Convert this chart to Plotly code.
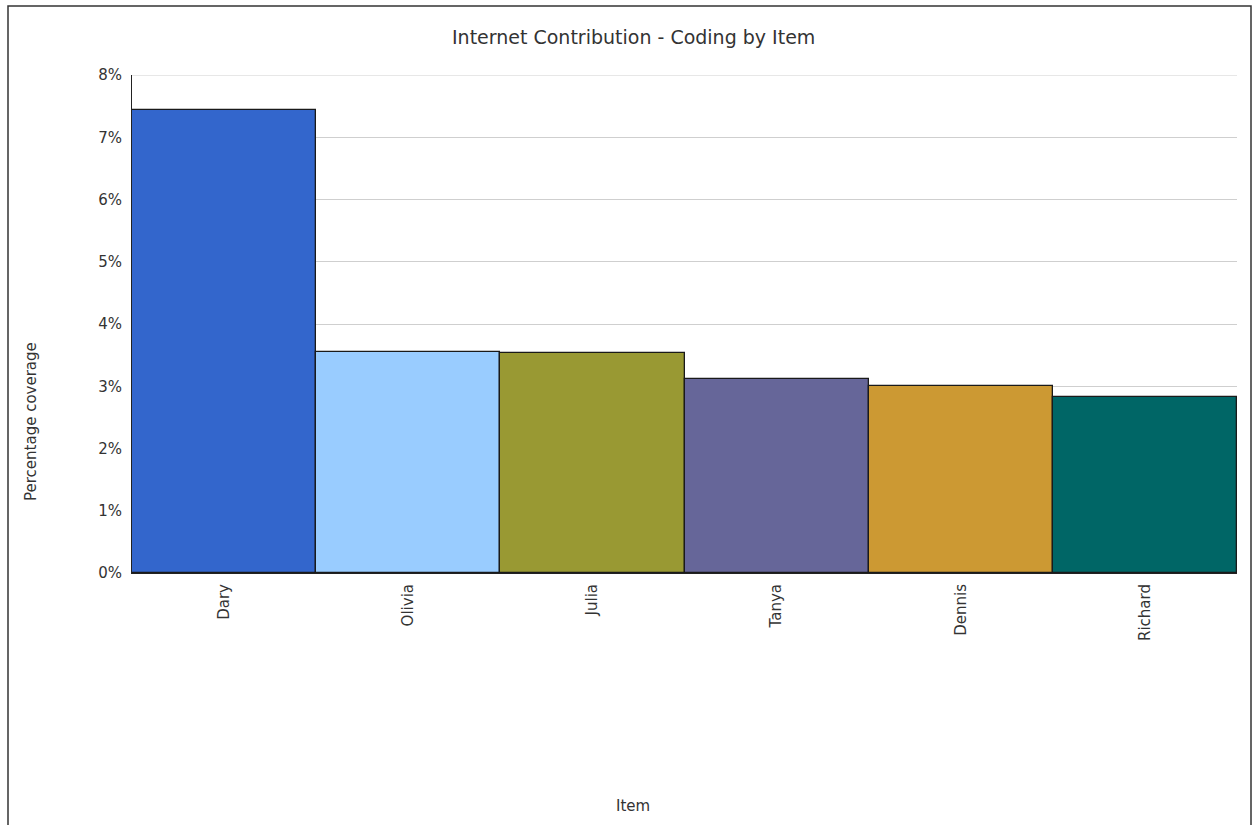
import plotly.graph_objects as go

categories = ["Dary", "Olivia", "Julia", "Tanya", "Dennis", "Richard"]
values = [7.43, 3.55, 3.53, 3.12, 3.00, 2.82]
colors = ["#3366CC", "#99CCFF", "#999933", "#666699", "#CC9933", "#006666"]
y_ticks = [0, 1, 2, 3, 4, 5, 6, 7, 8]
y_tick_labels = [f"{t}%" for t in y_ticks]

W, H = 1258, 825
L, R, T, B = 132, 21, 75, 252
pw, ph = W - L - R, H - T - B
FONT = "DejaVu Sans, Arial, sans-serif"

def px_x(x):
    return (x - L) / pw

def px_y(y):
    return (H - B - y) / ph

fig = go.Figure(go.Bar(
    x=categories, y=values,
    marker=dict(color=colors, line=dict(color="#1a1a1a", width=1.3)),
    width=1.0,
))

fig.update_layout(
    width=W, height=H,
    margin=dict(l=L, r=R, t=T, b=B),
    paper_bgcolor="white", plot_bgcolor="white",
    font=dict(family=FONT, color="#333333", size=15),
    bargap=0,
    showlegend=False,
    xaxis=dict(
        type="category", range=[-0.5, 5.5],
        tickangle=-90, tickfont=dict(family=FONT, size=15, color="#333333"),
        showline=True, linecolor="#222222", linewidth=1,
        showgrid=False, ticks="", ticklen=0, ticklabelstandoff=4,
    ),
    yaxis=dict(
        range=[0, 8], tickvals=y_ticks, ticktext=y_tick_labels,
        tickfont=dict(family=FONT, size=15, color="#333333"),
        showline=True, linecolor="#222222", linewidth=1,
        showgrid=True, gridcolor="#cfcfcf", gridwidth=1,
        zeroline=False, ticks="", ticklen=0, ticklabelstandoff=6,
    ),
    annotations=[
        dict(text="Internet Contribution - Coding by Item", xref="paper", yref="paper",
             x=px_x(633), y=px_y(37), showarrow=False, font=dict(family=FONT, size=19, color="#333333"),
             xanchor="center", yanchor="middle"),
        dict(text="Percentage coverage", xref="paper", yref="paper",
             x=px_x(31), y=px_y(422), showarrow=False, textangle=-90,
             font=dict(family=FONT, size=15, color="#333333"), xanchor="center", yanchor="middle"),
        dict(text="Item", xref="paper", yref="paper",
             x=px_x(633), y=px_y(806), showarrow=False,
             font=dict(family=FONT, size=15, color="#333333"), xanchor="center", yanchor="middle"),
    ],
    shapes=[
        dict(type="line", xref="paper", yref="y", x0=0, x1=1, y0=y_ticks[-1], y1=y_ticks[-1],
             line=dict(color="#cfcfcf", width=1), layer="below"),
        dict(type="rect", xref="paper", yref="paper",
             x0=px_x(8), x1=px_x(1251), y0=px_y(900), y1=px_y(6),
             line=dict(color="#333333", width=1.5), fillcolor="rgba(0,0,0,0)", layer="above"),
    ],
)

fig.write_html("out.html")
